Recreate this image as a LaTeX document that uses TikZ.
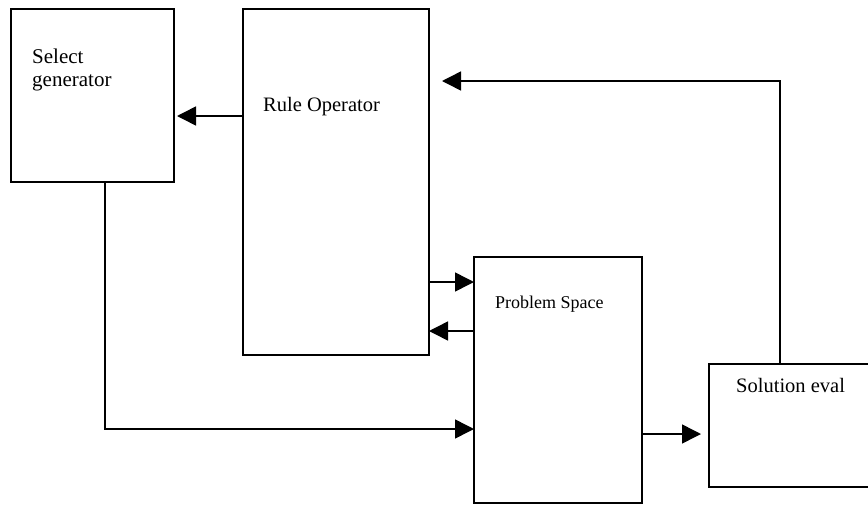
\documentclass[tikz,border=0pt]{standalone}
\usepackage{fontspec}
\setmainfont{Liberation Serif}
\usetikzlibrary{arrows.meta,calc}
\begin{document}
\begin{tikzpicture}[x=1pt,y=-1pt,
  box/.style={draw=black,line width=1.6pt,anchor=north west,inner sep=0pt,outer sep=0pt},
  conn/.style={draw=black,line width=1.5pt,-{Triangle[length=19pt,width=19pt]}},
  lbl/.style={inner sep=0pt,anchor=base west},
]
\useasboundingbox (0,0) rectangle (868,504);
\clip (0,0) rectangle (868,504);
% boxes
\node[box,minimum width=163pt,minimum height=173pt] (sel)  at (11,9) {};
\node[box,minimum width=186pt,minimum height=346pt] (rule) at (243,9) {};
\node[box,minimum width=168pt,minimum height=246pt] (prob) at (474,257) {};
\node[box,minimum width=166pt,minimum height=123pt] (sol)  at (709,364) {};
% labels
\node[lbl,font=\fontsize{21}{23}\selectfont] (tsel) at (32,63) {Select};
\node[lbl,font=\fontsize{21}{23}\selectfont] (tgen) at (32,86) {generator};
\node[lbl,font=\fontsize{20.5}{23}\selectfont] (trule) at (263,111) {Rule Operator};
\node[lbl,font=\fontsize{18}{22}\selectfont] (tprob) at (495,308) {Problem Space};
\node[lbl,font=\fontsize{20.5}{23}\selectfont] (tsol) at (736,392) {Solution eval};
% connectors
\draw[conn] (rule.west |- 0,116) -- ($(sel.east |- 0,116)+(3,0)$);
\draw[conn] (780,0 |- sol.north) |- ($(rule.east |- 0,81)+(13,0)$);
\draw[conn] (rule.east |- 0,282) -- (prob.west |- 0,282);
\draw[conn] (prob.west |- 0,331) -- (rule.east |- 0,331);
\draw[conn] (105,0 |- sel.south) |- (prob.west |- 0,429);
\draw[conn] (prob.east |- 0,434) -- ($(sol.west |- 0,434)+(-8,0)$);
\end{tikzpicture}
\end{document}
